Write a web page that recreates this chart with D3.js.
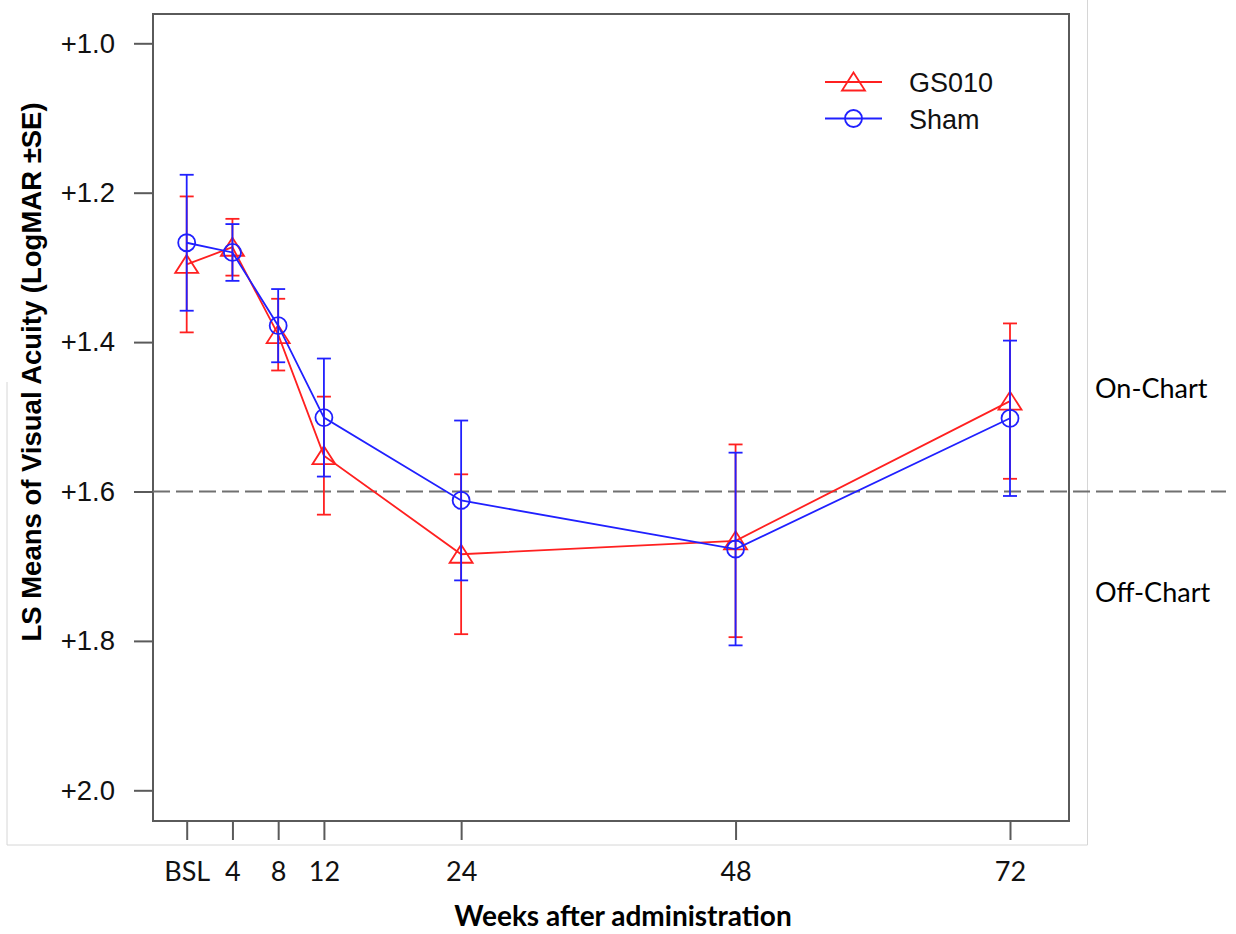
<!DOCTYPE html>
<html>
<head>
<meta charset="utf-8">
<script src="https://cdn.jsdelivr.net/npm/d3@7"></script>
<style>
  body { margin: 0; background: #fff; }
  svg { display: block; }
</style>
</head>
<body>
<div id="wrapper"></div>
<script>
// data
var weeks = [0, 4, 8, 12, 24, 48, 72];
var weekLabels = ["BSL", "4", "8", "12", "24", "48", "72"];
var gs010Mean = [1.296, 1.273, 1.390, 1.552, 1.684, 1.666, 1.479];
var gs010SE   = [0.091, 0.038, 0.048, 0.079, 0.107, 0.129, 0.104];
var shamMean  = [1.267, 1.280, 1.378, 1.501, 1.612, 1.677, 1.502];
var shamSE    = [0.091, 0.038, 0.049, 0.079, 0.107, 0.129, 0.104];
var yTicks = [1.0, 1.2, 1.4, 1.6, 1.8, 2.0];
var cutoff = 1.6;

function build() {
    var dimension = {
        width: 1236,
        height: 934,
        margin: { top: 14, right: 167, bottom: 113, left: 153 }
    };

    const wrapper = d3.select("#wrapper")
        .append("svg")
        .attr("width", dimension.width)
        .attr("height", dimension.height);

    var boxRight = dimension.width - dimension.margin.right;
    var boxBottom = dimension.height - dimension.margin.bottom;

    var x = d3.scaleLinear().domain([0, 72]).range([186.7, 1010]);
    var y = d3.scaleLinear().domain([1.0, 2.0]).range([43.3, 790.3]);

    // faint frame of the pasted picture
    wrapper.append("path")
        .attr("d", "M7,382V845H1087.5V0")
        .attr("fill", "none")
        .attr("stroke", "#d6d6d6")
        .attr("stroke-width", 1);

    // plot box
    wrapper.append("rect")
        .attr("x", dimension.margin.left)
        .attr("y", dimension.margin.top)
        .attr("width", boxRight - dimension.margin.left)
        .attr("height", boxBottom - dimension.margin.top)
        .attr("fill", "none")
        .attr("stroke", "#5a5a5a")
        .attr("stroke-width", 2);

    // y axis
    const yAxis = wrapper.append("g")
        .attr("transform", `translate(${dimension.margin.left},0)`)
        .call(d3.axisLeft(y)
            .tickValues(yTicks)
            .tickSize(19)
            .tickPadding(19)
            .tickFormat(d => "+" + d.toFixed(1)));
    yAxis.select(".domain").remove();
    yAxis.selectAll("line").attr("stroke", "#5a5a5a").attr("stroke-width", 2);
    yAxis.selectAll("text")
        .attr("fill", "#111")
        .style("font-family", "Arial, 'Liberation Sans', sans-serif")
        .style("font-size", "27.5px");

    // x axis
    const xAxis = wrapper.append("g")
        .attr("transform", `translate(0,${boxBottom})`)
        .call(d3.axisBottom(x)
            .tickValues(weeks)
            .tickSize(19)
            .tickPadding(22)
            .tickFormat((d, i) => weekLabels[i]));
    xAxis.select(".domain").remove();
    xAxis.selectAll("line").attr("stroke", "#5a5a5a").attr("stroke-width", 2);
    xAxis.selectAll("text")
        .attr("fill", "#111")
        .style("font-family", "Lato, 'Open Sans', sans-serif")
        .style("font-size", "27px");

    // on/off chart cut line
    wrapper.append("line")
        .attr("x1", dimension.margin.left)
        .attr("x2", 1226)
        .attr("y1", y(cutoff))
        .attr("y2", y(cutoff))
        .attr("stroke", "#707070")
        .attr("stroke-width", 2.2)
        .attr("stroke-dasharray", "17,6");

    var series = [
        { name: "GS010", mean: gs010Mean, se: gs010SE, color: "#ff2020", shape: "tri" },
        { name: "Sham", mean: shamMean, se: shamSE, color: "#2020ff", shape: "circ" }
    ];

    function marker(g, shape, color) {
        if (shape == "tri") {
            g.append("path")
                .attr("d", "M0,-9.5L11.5,8.5H-11.5Z")
                .attr("fill", "none")
                .attr("stroke", color)
                .attr("stroke-width", 1.8);
        } else {
            g.append("circle")
                .attr("r", 8.5)
                .attr("fill", "none")
                .attr("stroke", color)
                .attr("stroke-width", 1.8);
        }
    }

    var line = d3.line().x(d => x(d.w)).y(d => y(d.m));

    series.forEach(s => {
        var pts = weeks.map((w, i) => ({ w: w, m: s.mean[i], se: s.se[i] }));
        const g = wrapper.append("g");

        // error bars
        const eb = g.selectAll("g.eb")
            .data(pts)
            .enter()
            .append("g")
            .attr("stroke", s.color)
            .attr("stroke-width", 1.8);
        eb.append("line")
            .attr("x1", d => x(d.w)).attr("x2", d => x(d.w))
            .attr("y1", d => y(d.m - d.se)).attr("y2", d => y(d.m + d.se));
        eb.append("line")
            .attr("x1", d => x(d.w) - 7).attr("x2", d => x(d.w) + 7)
            .attr("y1", d => y(d.m - d.se)).attr("y2", d => y(d.m - d.se));
        eb.append("line")
            .attr("x1", d => x(d.w) - 7).attr("x2", d => x(d.w) + 7)
            .attr("y1", d => y(d.m + d.se)).attr("y2", d => y(d.m + d.se));

        g.append("path")
            .attr("d", line(pts))
            .attr("fill", "none")
            .attr("stroke", s.color)
            .attr("stroke-width", 1.8);

        g.selectAll("g.pt")
            .data(pts)
            .enter()
            .append("g")
            .attr("transform", d => `translate(${x(d.w)},${y(d.m)})`)
            .each(function () { marker(d3.select(this), s.shape, s.color); });
    });

    // legend
    const legend = wrapper.append("g");
    series.forEach((s, i) => {
        var ly = 82 + i * 36.5;
        legend.append("line")
            .attr("x1", 825).attr("x2", 882)
            .attr("y1", ly).attr("y2", ly)
            .attr("stroke", s.color)
            .attr("stroke-width", 1.8);
        marker(legend.append("g").attr("transform", `translate(853.5,${ly})`), s.shape, s.color);
        legend.append("text")
            .attr("x", 909)
            .attr("y", ly + 10)
            .text(s.name)
            .attr("fill", "#111")
            .style("font-family", "Arial, 'Liberation Sans', sans-serif")
            .style("font-size", "27px");
    });

    // side labels
    wrapper.append("text")
        .attr("x", 1095).attr("y", 398)
        .text("On-Chart")
        .style("font-family", "Lato, 'Open Sans', sans-serif")
        .style("font-size", "27px");
    wrapper.append("text")
        .attr("x", 1095).attr("y", 602)
        .text("Off-Chart")
        .style("font-family", "Lato, 'Open Sans', sans-serif")
        .style("font-size", "27px");

    // axis titles
    wrapper.append("text")
        .attr("transform", "translate(41,372) rotate(-90)")
        .attr("text-anchor", "middle")
        .text("LS Means of Visual Acuity (LogMAR ±SE)")
        .style("font-family", "Arial, 'Liberation Sans', sans-serif")
        .style("font-weight", "bold")
        .style("font-size", "27.5px");
    wrapper.append("text")
        .attr("x", 623).attr("y", 926)
        .attr("text-anchor", "middle")
        .text("Weeks after administration")
        .style("font-family", "Lato, 'Open Sans', sans-serif")
        .style("font-weight", "bold")
        .style("font-size", "28px");
}

build();
</script>
</body>
</html>
